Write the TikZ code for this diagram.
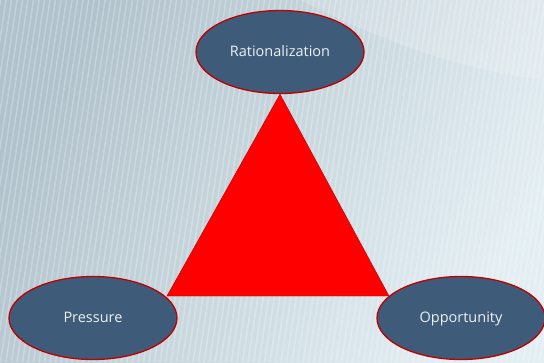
\documentclass[tikz,border=0pt]{standalone}
\usepackage{fontspec}
\setmainfont{Open Sans}
\usetikzlibrary{shapes.geometric}
\pgfdeclarelayer{slide}
\pgfdeclarelayer{under}
\pgfsetlayers{slide,under,main}
\definecolor{bgdark}{HTML}{B0C2CB}
\definecolor{bglight}{HTML}{E3EEF2}
\definecolor{ovalfill}{HTML}{3E5B79}
\definecolor{ovalline}{HTML}{C00000}
\definecolor{ovaltext}{HTML}{ECF1F4}
\tikzset{
  oval/.style={ellipse, draw=ovalline, line width=1.3pt, fill=ovalfill,
    minimum width=168pt, minimum height=83pt, inner sep=0pt,
    text height=1.8ex, text depth=0.25ex,
    text=ovaltext, font=\fontsize{14.5}{16}\selectfont},
  wedge/.style={fill=red, draw=red!70!black, line width=0.4pt}
}
\begin{document}
\begin{tikzpicture}[x=1pt,y=-1pt]
  \useasboundingbox (0,0) rectangle (544,362);

  % the three corners
  \node[oval] (rat) at (280,52) {Rationalization};
  \node[oval] (pre) at (93,318) {Pressure};
  \node[oval] (opp) at (461,318) {Opportunity};
  \coordinate (bl) at (167,296);
  \coordinate (br) at (389,296);

  % central triangle, tucked beneath the ovals
  \begin{pgfonlayer}{under}
    \fill[wedge] (rat.south) -- (br) -- (bl) -- cycle;
  \end{pgfonlayer}

  % slide background: soft diagonal gradient with fine stripes
  \begin{pgfonlayer}{slide}
    \shade[left color=bgdark, right color=bglight, shading angle=60]
      (0,0) rectangle (544,362);
    \fill[white, opacity=0.18] (300,0) .. controls (380,40) and (460,70) .. (544,80)
      -- (544,0) -- cycle;
    \begin{scope}
      \clip (0,0) rectangle (544,362);
      \foreach \x in {-60,-54.5,...,560}
        \draw[white, opacity=0.24, line width=1.6pt] (\x,362) -- (\x+55,0);
    \end{scope}
  \end{pgfonlayer}
\end{tikzpicture}
\end{document}
